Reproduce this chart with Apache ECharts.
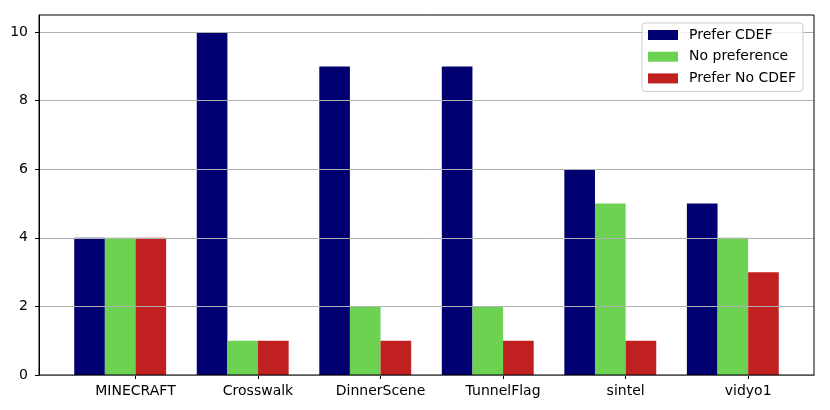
<!DOCTYPE html>
<html>
<head>
<meta charset="utf-8">
<script src="https://cdn.jsdelivr.net/npm/echarts@6/dist/echarts.min.js"></script>
<style>html,body{margin:0;padding:0;background:#fff}#c{width:830px;height:410px}</style>
</head>
<body>
<div id="c"></div>
<script>
var categories = ['MINECRAFT', 'Crosswalk', 'DinnerScene', 'TunnelFlag', 'sintel', 'vidyo1'];
var preferCDEF = [4, 10, 9, 9, 6, 5];
var noPreference = [4, 1, 2, 2, 5, 4];
var preferNoCDEF = [4, 1, 1, 1, 1, 3];
var seriesNames = ['Prefer CDEF', 'No preference', 'Prefer No CDEF'];
var yTicks = [0, 2, 4, 6, 8, 10];

var W = 0.25;            // bar width in category units
var xMin = -0.125 - 0.2875, xMax = 5.625 + 0.2875;
var gridLeft = 39, gridRight = 16, gridTop = 15, gridBottom = 35;
var plotW = 830 - gridLeft - gridRight;
var barPx = plotW / (xMax - xMin) * W;

function pts(vals, off) { return vals.map(function (v, i) { return [i + off, v]; }); }
var tickVals = categories.map(function (c, i) { return i + 1.5 * W; });

var font = 'DejaVu Sans';
var chart = echarts.init(document.getElementById('c'), null, {renderer: 'canvas'});
var colors = ['#000070', '#6dd252', '#c02020'];
var datasets = [preferCDEF, noPreference, preferNoCDEF];

chart.setOption({
  animation: false,
  backgroundColor: '#fff',
  textStyle: {fontFamily: font, color: '#000'},
  grid: {left: gridLeft, right: gridRight, top: gridTop, bottom: gridBottom, show: true, borderColor: '#000', borderWidth: 1, z: 5, backgroundColor: 'transparent'},
  legend: {
    orient: 'vertical', left: 642, top: 23,
    itemWidth: 30, itemHeight: 10, itemGap: 7.7,
    icon: 'rect',
    padding: [5, 7, 6, 6],
    backgroundColor: 'rgba(255,255,255,0.8)', borderColor: '#cccccc', borderWidth: 1, borderRadius: 3,
    textStyle: {fontFamily: font, fontSize: 14, color: '#000', lineHeight: 14, padding: [0, 0, 0, 6]},
    data: seriesNames
  },
  xAxis: {
    type: 'value', min: xMin, max: xMax,
    splitLine: {show: false},
    axisLine: {show: true, onZero: false, lineStyle: {color: '#000', width: 1}},
    axisTick: {show: true, length: 4, customValues: tickVals, lineStyle: {color: '#000'}},
    axisLabel: {
      customValues: tickVals, margin: 9, fontFamily: font, fontSize: 14, color: '#000',
      formatter: function (v) { return categories[Math.round(v - 1.5 * W)]; }
    }
  },
  yAxis: {
    type: 'value', min: 0, max: 10.5, interval: 2, z: 3,
    axisLine: {show: true, onZero: false, lineStyle: {color: '#000', width: 1}},
    axisTick: {show: true, length: 4, customValues: yTicks, lineStyle: {color: '#000'}},
    axisLabel: {customValues: yTicks, margin: 11, fontFamily: font, fontSize: 14, color: '#000'},
    splitLine: {show: true, lineStyle: {color: '#b0b0b0', width: 1}}
  },
  series: datasets.map(function (d, k) {
    return {
      name: seriesNames[k], type: 'bar', barWidth: barPx, barGap: '-100%',
      itemStyle: {color: colors[k]},
      data: pts(d, k * W)
    };
  })
});
</script>
</body>
</html>
